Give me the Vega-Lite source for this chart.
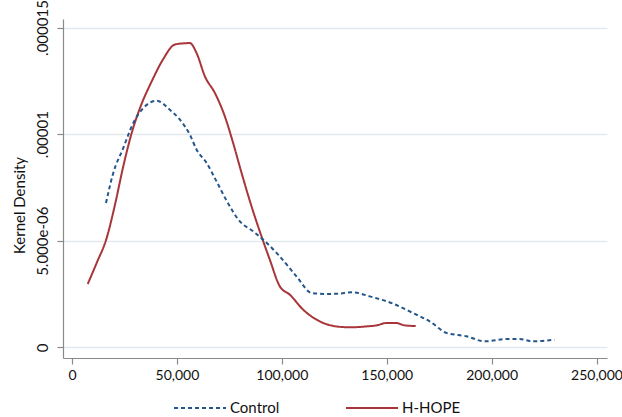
{
  "$schema": "https://vega.github.io/schema/vega-lite/v6.json",
  "width": 544,
  "height": 339,
  "autosize": "none",
  "padding": {"left": 63, "top": 19, "right": 15, "bottom": 59},
  "background": "white",
  "config": {
    "view": {"stroke": null},
    "font": "Lato",
    "axis": {
      "labelFont": "Lato",
      "titleFont": "Lato",
      "labelFontSize": 14,
      "titleFontSize": 15,
      "labelColor": "#111111",
      "titleColor": "#111111",
      "titleFontWeight": "normal",
      "domainColor": "#8a8a8a",
      "domainWidth": 1.2,
      "tickColor": "#8a8a8a",
      "tickSize": 6,
      "tickWidth": 1.2
    },
    "legend": {"labelFont": "Lato", "labelFontSize": 15, "labelColor": "#111111"}
  },
  "data": {
    "values": [
      {"group": "H-HOPE", "x": 7476, "density": 2.97e-6},
      {"group": "H-HOPE", "x": 11762, "density": 3.96e-6},
      {"group": "H-HOPE", "x": 16524, "density": 5.13e-6},
      {"group": "H-HOPE", "x": 20476, "density": 6.69e-6},
      {"group": "H-HOPE", "x": 24429, "density": 8.49e-6},
      {"group": "H-HOPE", "x": 28429, "density": 10.05e-6},
      {"group": "H-HOPE", "x": 32381, "density": 11.22e-6},
      {"group": "H-HOPE", "x": 37952, "density": 12.47e-6},
      {"group": "H-HOPE", "x": 43476, "density": 13.52e-6},
      {"group": "H-HOPE", "x": 48714, "density": 14.19e-6},
      {"group": "H-HOPE", "x": 52000, "density": 14.25e-6},
      {"group": "H-HOPE", "x": 56190, "density": 14.27e-6},
      {"group": "H-HOPE", "x": 59381, "density": 13.8e-6},
      {"group": "H-HOPE", "x": 63333, "density": 12.71e-6},
      {"group": "H-HOPE", "x": 68095, "density": 11.93e-6},
      {"group": "H-HOPE", "x": 72857, "density": 10.83e-6},
      {"group": "H-HOPE", "x": 76810, "density": 9.58e-6},
      {"group": "H-HOPE", "x": 80810, "density": 8.18e-6},
      {"group": "H-HOPE", "x": 85571, "density": 6.61e-6},
      {"group": "H-HOPE", "x": 90333, "density": 5.2e-6},
      {"group": "H-HOPE", "x": 94286, "density": 4.11e-6},
      {"group": "H-HOPE", "x": 99048, "density": 2.86e-6},
      {"group": "H-HOPE", "x": 103810, "density": 2.47e-6},
      {"group": "H-HOPE", "x": 110143, "density": 1.77e-6},
      {"group": "H-HOPE", "x": 116524, "density": 1.3e-6},
      {"group": "H-HOPE", "x": 126048, "density": 0.98e-6},
      {"group": "H-HOPE", "x": 132381, "density": 0.94e-6},
      {"group": "H-HOPE", "x": 140333, "density": 0.98e-6},
      {"group": "H-HOPE", "x": 145095, "density": 1.03e-6},
      {"group": "H-HOPE", "x": 149857, "density": 1.14e-6},
      {"group": "H-HOPE", "x": 154619, "density": 1.14e-6},
      {"group": "H-HOPE", "x": 158571, "density": 1.03e-6},
      {"group": "H-HOPE", "x": 163810, "density": 1.0e-6},
      {"group": "Control", "x": 16190, "density": 6.77e-6},
      {"group": "Control", "x": 19667, "density": 8.18e-6},
      {"group": "Control", "x": 24429, "density": 9.35e-6},
      {"group": "Control", "x": 29190, "density": 10.52e-6},
      {"group": "Control", "x": 33952, "density": 11.22e-6},
      {"group": "Control", "x": 40333, "density": 11.57e-6},
      {"group": "Control", "x": 46667, "density": 11.14e-6},
      {"group": "Control", "x": 51429, "density": 10.68e-6},
      {"group": "Control", "x": 56190, "density": 9.97e-6},
      {"group": "Control", "x": 59381, "density": 9.27e-6},
      {"group": "Control", "x": 64143, "density": 8.65e-6},
      {"group": "Control", "x": 68905, "density": 7.78e-6},
      {"group": "Control", "x": 73667, "density": 6.88e-6},
      {"group": "Control", "x": 80000, "density": 5.91e-6},
      {"group": "Control", "x": 86333, "density": 5.44e-6},
      {"group": "Control", "x": 91095, "density": 5.05e-6},
      {"group": "Control", "x": 98238, "density": 4.35e-6},
      {"group": "Control", "x": 107000, "density": 3.33e-6},
      {"group": "Control", "x": 114143, "density": 2.55e-6},
      {"group": "Control", "x": 121286, "density": 2.5e-6},
      {"group": "Control", "x": 127000, "density": 2.52e-6},
      {"group": "Control", "x": 133952, "density": 2.58e-6},
      {"group": "Control", "x": 141905, "density": 2.39e-6},
      {"group": "Control", "x": 153000, "density": 2.05e-6},
      {"group": "Control", "x": 162524, "density": 1.61e-6},
      {"group": "Control", "x": 170476, "density": 1.22e-6},
      {"group": "Control", "x": 178429, "density": 0.68e-6},
      {"group": "Control", "x": 187952, "density": 0.52e-6},
      {"group": "Control", "x": 196667, "density": 0.28e-6},
      {"group": "Control", "x": 207000, "density": 0.39e-6},
      {"group": "Control", "x": 213333, "density": 0.39e-6},
      {"group": "Control", "x": 219667, "density": 0.28e-6},
      {"group": "Control", "x": 230000, "density": 0.36e-6}
    ]
  },
  "mark": {"type": "line", "strokeWidth": 2, "interpolate": "monotone"},
  "encoding": {
    "x": {
      "field": "x",
      "type": "quantitative",
      "scale": {"domain": [-4300, 255000], "nice": false, "zero": false},
      "axis": {
        "title": null,
        "values": [0, 50000, 100000, 150000, 200000, 250000],
        "format": ",d",
        "grid": false,
        "labelPadding": 4,
        "labelFlush": false
      }
    },
    "y": {
      "field": "density",
      "type": "quantitative",
      "scale": {"domain": [-0.5e-6, 15.4e-6], "nice": false, "zero": false},
      "axis": {
        "title": "Kernel Density",
        "values": [0, 5e-6, 1e-5, 1.5e-5],
        "labelExpr": "datum.value == 0 ? '0' : datum.value < 6e-6 ? '5.000e-06' : datum.value < 1.2e-5 ? '.00001' : '.000015'",
        "labelAngle": -90,
        "labelAlign": "center",
        "labelBaseline": "bottom",
        "labelPadding": 7,
        "labelFontSize": 15,
        "labelFlush": false,
        "grid": true,
        "gridColor": "#e2e9ed",
        "gridWidth": 1.5,
        "titleX": -44,
        "titleY": 186,
        "titleBaseline": "middle",
        "titleAlign": "center"
      }
    },
    "color": {
      "field": "group",
      "type": "nominal",
      "scale": {"domain": ["Control", "H-HOPE"], "range": ["#24568a", "#a8353a"]},
      "legend": {
        "title": null,
        "orient": "none",
        "direction": "horizontal",
        "legendX": 110,
        "legendY": 362,
        "padding": 0,
        "symbolType": "stroke",
        "symbolSize": 2700,
        "symbolStrokeWidth": 2,
        "labelOffset": 3,
        "columnPadding": 62
      }
    },
    "strokeDash": {
      "field": "group",
      "type": "nominal",
      "scale": {"domain": ["Control", "H-HOPE"], "range": [[4, 3], [1, 0]]},
      "legend": null
    }
  }
}
